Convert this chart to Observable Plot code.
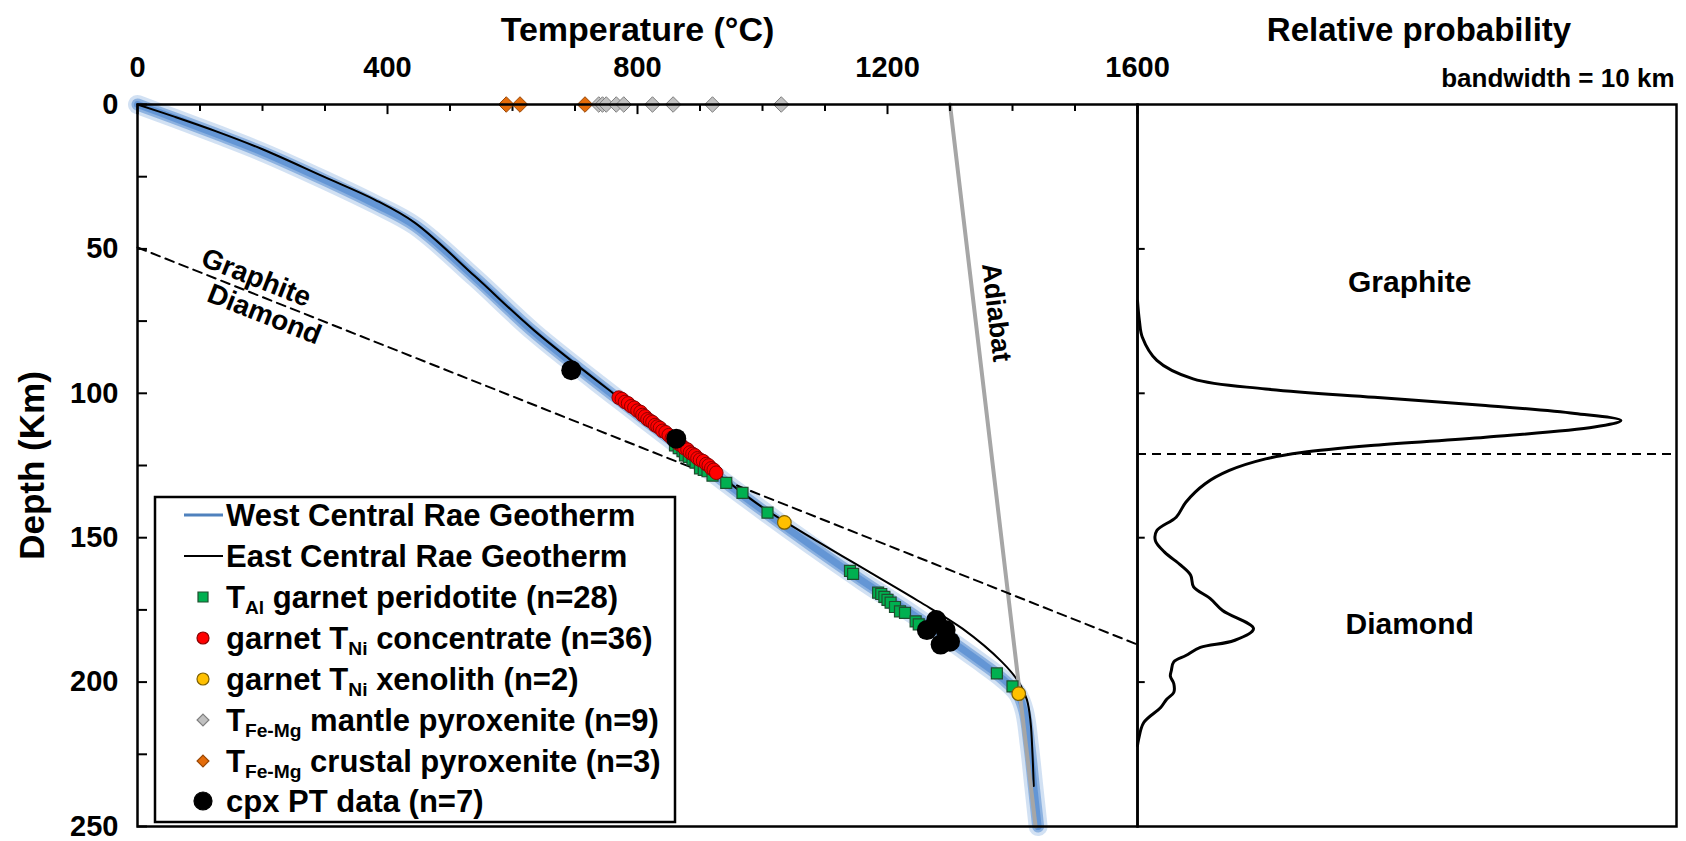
<!DOCTYPE html>
<html>
<head>
<meta charset="utf-8">
<script src="https://cdn.jsdelivr.net/npm/d3@7"></script>
<script src="https://cdn.jsdelivr.net/npm/@observablehq/plot@0.6"></script>
<style>
  body { margin: 0; background: #fff; }
  #chart { position: relative; width: 1686px; height: 841px; font-family: "Liberation Sans", Arial, sans-serif; }
  #chart svg { position: absolute; top: 0; overflow: visible; }
</style>
</head>
<body>
<div id="chart"></div>
<script>
// ---- axis ticks ----
const tempTicks = [0, 400, 800, 1200, 1600];
const tempMinor = [100, 200, 300, 500, 600, 700, 900, 1000, 1100, 1300, 1400, 1500];
const depthTicks = [0, 50, 100, 150, 200, 250];
const depthMinor = [25, 75, 125, 175, 225];
const kdeTicks = [50, 100, 150, 200];

// ---- geotherms (°C, km) ----
const westT = [0, 60, 126, 200, 298, 380, 444, 540, 635, 766, 850, 926, 1000, 1080, 1160, 1230, 1290, 1345, 1385, 1408, 1419, 1427, 1434, 1441];
const westZ = [0, 4.8, 10.2, 16.5, 26, 34.5, 42, 60, 79, 101.5, 115.5, 128.5, 140.5, 153, 165, 175, 184, 192.5, 199, 204, 210, 222, 236, 250];
const eastT = [0, 60, 126, 200, 298, 380, 444, 540, 635, 766, 850, 926, 1000, 1090, 1172, 1250, 1320, 1383, 1410, 1423, 1429, 1432, 1434];
const eastZ = [0, 4.3, 9.3, 15.5, 25, 33, 41, 59.5, 78.3, 100.8, 114.5, 127.5, 139.5, 151.5, 162, 172, 181.5, 193, 200, 206, 214, 225, 236];
const adiabatT = [1300, 1437];
const adiabatZ = [0, 250];
const gdT = [0, 1600];          // graphite–diamond boundary
const gdZ = [49.5, 187];

// ---- thermobarometry ----
const tAlT = [860, 866, 872, 876, 882, 888, 893, 900, 906, 912, 920, 942, 968, 1008, 1140, 1145, 1185, 1190, 1195, 1200, 1205, 1212, 1220, 1228, 1245, 1250, 1375, 1400];
const tAlZ = [118, 119, 120, 121.5, 122, 123, 124, 126, 126.5, 127, 128.5, 131, 134.5, 141.3, 161.5, 162.5, 169, 169.5, 170.5, 171.5, 172.5, 174, 175.5, 176, 179, 180, 197, 201.5];
const tNiConcT = [770, 775, 780, 785, 790, 795, 800, 805, 808, 812, 816, 820, 824, 828, 832, 836, 840, 845, 850, 855, 860, 866, 870, 875, 880, 884, 888, 892, 896, 900, 905, 910, 914, 918, 922, 926];
const tNiConcZ = [101.5, 102, 103, 103.5, 104.5, 105, 106, 106.5, 107.5, 108, 109, 109.5, 110, 111, 111.5, 112, 113, 113.5, 114.5, 115.5, 116, 117.5, 118, 119, 119.5, 120.5, 121, 121.5, 122.5, 123, 123.5, 124.5, 125, 126, 126.5, 127.5];
const tNiXenoT = [1035, 1410];
const tNiXenoZ = [144.7, 204];
const mantlePxT = [738, 744, 750, 766, 778, 824, 857, 920, 1030];
const crustalPxT = [590, 612, 716];
const cpxT = [694, 862, 1263, 1278, 1285, 1293, 1300];
const cpxZ = [92, 115.7, 182, 178.5, 187, 182, 186];

// ---- depth distribution, bandwidth 10 km ----
const kdeZ = [68, 75, 80.6, 88.6, 95, 98.5, 101.4, 104.2, 107, 109.4, 111.7, 115.2, 118, 120.5, 122.7, 126.7, 131.3, 137.7, 142.9, 147.5, 151, 155, 159.6, 163, 167, 171, 175.2, 181.5, 185.6, 188, 190.8, 193, 196, 198, 200.5, 203.6, 206, 208.8, 214, 220, 222];
const kdeP = [0, 0.004, 0.01, 0.04, 0.115, 0.265, 0.49, 0.72, 0.905, 1.0, 0.945, 0.72, 0.49, 0.34, 0.265, 0.19, 0.14, 0.1, 0.08, 0.04, 0.037, 0.056, 0.09, 0.11, 0.116, 0.15, 0.176, 0.24, 0.2, 0.13, 0.1, 0.075, 0.07, 0.068, 0.075, 0.075, 0.06, 0.048, 0.013, 0.002, 0];
const transitionDepth = 121;

const FONT = '"Liberation Sans", Arial, sans-serif';
const bold = {fontWeight: "bold", fill: "black"};

const COL = {
  blue: "#5f92d4", green: "#00b050", greenS: "#1f4e2e", red: "#ff0000", redS: "#8b0000",
  yellow: "#ffc000", yellowS: "#7f6000", gray: "#c0c0c0", grayS: "#7f7f7f",
  orange: "#e46c0a", orangeS: "#984807", adiabat: "#a6a6a6"
};

const ySpec = {domain: [0, 250], reverse: true, axis: null};

// ---- left panel: temperature vs depth ----
const left = Plot.plot({
  width: 1137, height: 841,
  marginLeft: 137, marginRight: 0, marginTop: 104, marginBottom: 15,
  style: {fontFamily: FONT, background: "transparent", overflow: "visible"},
  x: {domain: [0, 1600], axis: null},
  y: ySpec,
  marks: [
    // soft blue band for the West Central Rae geotherm
    Plot.line(westT, {x: westT, y: westZ, curve: "catmull-rom", stroke: COL.blue, strokeWidth: 19, strokeOpacity: 0.28}),
    Plot.line(westT, {x: westT, y: westZ, curve: "catmull-rom", stroke: COL.blue, strokeWidth: 12, strokeOpacity: 0.6}),
    Plot.line(westT, {x: westT, y: westZ, curve: "catmull-rom", stroke: COL.blue, strokeWidth: 7, strokeOpacity: 0.9}),
    Plot.line(eastT, {x: eastT, y: eastZ, curve: "catmull-rom", stroke: "black", strokeWidth: 2}),
    Plot.line(adiabatT, {x: adiabatT, y: adiabatZ, stroke: COL.adiabat, strokeWidth: 4}),
    Plot.line(gdT, {x: gdT, y: gdZ, stroke: "black", strokeWidth: 2, strokeDasharray: "9,6"}),
    // ticks pointing inward
    Plot.ruleX(tempTicks, {x: d => d, y1: 0, y2: 3.5, stroke: "black", strokeWidth: 2}),
    Plot.ruleX(tempMinor, {x: d => d, y1: 0, y2: 2.4, stroke: "black", strokeWidth: 2}),
    Plot.ruleY(depthTicks.concat(depthMinor), {y: d => d, x1: 0, x2: 16, stroke: "black", strokeWidth: 2}),
    // samples
    Plot.dot(tAlT, {x: tAlT, y: tAlZ, symbol: "square", r: 6.2, fill: COL.green, stroke: COL.greenS, strokeWidth: 1.2}),
    Plot.dot(tNiXenoT, {x: tNiXenoT, y: tNiXenoZ, r: 6.8, fill: COL.yellow, stroke: COL.yellowS, strokeWidth: 1.2}),
    Plot.dot(tNiConcT, {x: tNiConcT, y: tNiConcZ, r: 6.8, fill: COL.red, stroke: COL.redS, strokeWidth: 1}),
    Plot.dot(cpxT, {x: cpxT, y: cpxZ, r: 10, fill: "black"}),
    Plot.dot(mantlePxT, {x: mantlePxT, y: 0, symbol: "diamond2", r: 7, fill: COL.gray, stroke: COL.grayS, strokeWidth: 1}),
    Plot.dot(crustalPxT, {x: crustalPxT, y: 0, symbol: "diamond2", r: 7, fill: COL.orange, stroke: COL.orangeS, strokeWidth: 1}),
    // labels
    Plot.text(tempTicks, {x: d => d, y: 0, dy: -37, text: d => String(d), fontSize: 29, ...bold}),
    Plot.text(depthTicks, {x: 0, y: d => d, dx: -19, textAnchor: "end", text: d => String(d), fontSize: 29, ...bold}),
    Plot.text(["Temperature (°C)"], {frameAnchor: "top", lineAnchor: "middle", dy: -74, text: d => d, fontSize: 34, ...bold}),
    Plot.text(["Depth (Km)"], {frameAnchor: "left", textAnchor: "middle", lineAnchor: "middle", dx: -105, rotate: -90, text: d => d, fontSize: 35, ...bold}),
    Plot.text(["Graphite"], {x: 190, y: 60, rotate: 21.6, text: d => d, fontSize: 28, ...bold}),
    Plot.text(["Diamond"], {x: 203, y: 72.7, rotate: 21.6, text: d => d, fontSize: 28, ...bold}),
    Plot.text(["Adiabat"], {x: 1374, y: 72, rotate: 83.3, text: d => d, fontSize: 27, ...bold}),
    Plot.frame({stroke: "black", strokeWidth: 2.5})
  ]
});
left.style.left = "0px";

// ---- right panel: relative probability of depth ----
const right = Plot.plot({
  width: 549, height: 841,
  marginLeft: 0, marginRight: 10, marginTop: 104, marginBottom: 15,
  style: {fontFamily: FONT, background: "transparent", overflow: "visible"},
  x: {domain: [0, 1.115], axis: null},
  y: ySpec,
  marks: [
    Plot.ruleY([transitionDepth], {y: d => d, stroke: "black", strokeWidth: 2, strokeDasharray: "9,6"}),
    Plot.ruleY(kdeTicks, {y: d => d, x1: 0, x2: 0.016, stroke: "black", strokeWidth: 2}),
    Plot.line(kdeZ, {x: kdeP, y: kdeZ, curve: "catmull-rom", stroke: "black", strokeWidth: 3}),
    Plot.text(["Relative probability"], {frameAnchor: "top", lineAnchor: "middle", dx: 12, dy: -74, text: d => d, fontSize: 33, ...bold}),
    Plot.text(["bandwidth = 10 km"], {frameAnchor: "top-right", textAnchor: "end", lineAnchor: "middle", dx: -2, dy: -26, text: d => d, fontSize: 26, ...bold}),
    Plot.text(["Graphite"], {x: 0.563, y: 61.6, text: d => d, fontSize: 30, ...bold}),
    Plot.text(["Diamond"], {x: 0.563, y: 180, text: d => d, fontSize: 30, ...bold}),
    Plot.frame({stroke: "black", strokeWidth: 2.5})
  ]
});
right.style.left = "1137px";

const chart = document.getElementById("chart");
chart.appendChild(left);
chart.appendChild(right);

// ---- legend drawn into the left panel ----
const legendItems = [
  {sym: "line", stroke: "#4f81bd", w: 3, parts: [["West Central Rae Geotherm", 0]]},
  {sym: "line", stroke: "black", w: 2, parts: [["East Central Rae Geotherm", 0]]},
  {sym: "square", fill: COL.green, stroke: COL.greenS, parts: [["T", 0], ["Al", 1], [" garnet peridotite (n=28)", 0]]},
  {sym: "circle", fill: COL.red, stroke: COL.redS, r: 6, parts: [["garnet T", 0], ["Ni", 1], [" concentrate (n=36)", 0]]},
  {sym: "circle", fill: COL.yellow, stroke: COL.yellowS, r: 6, parts: [["garnet T", 0], ["Ni", 1], [" xenolith (n=2)", 0]]},
  {sym: "diamond", fill: COL.gray, stroke: COL.grayS, parts: [["T", 0], ["Fe-Mg", 1], [" mantle pyroxenite (n=9)", 0]]},
  {sym: "diamond", fill: COL.orange, stroke: COL.orangeS, parts: [["T", 0], ["Fe-Mg", 1], [" crustal pyroxenite (n=3)", 0]]},
  {sym: "circle", fill: "black", stroke: "black", r: 9, parts: [["cpx PT data (n=7)", 0]]}
];
const rowY = [515, 556, 597, 638, 679, 720, 761, 801];

const lg = d3.select(left).append("g")
  .attr("font-family", FONT).attr("font-weight", "bold").attr("font-size", 31)
  .attr("text-anchor", "start").attr("fill", "black");
lg.append("rect").attr("x", 155).attr("y", 497).attr("width", 520).attr("height", 325)
  .attr("fill", "white").attr("stroke", "black").attr("stroke-width", 2.5);

legendItems.forEach((it, i) => {
  const cy = rowY[i], cx = 203;
  if (it.sym === "line") {
    lg.append("line").attr("x1", 184).attr("x2", 223).attr("y1", cy).attr("y2", cy)
      .attr("stroke", it.stroke).attr("stroke-width", it.w);
  } else if (it.sym === "circle") {
    lg.append("circle").attr("cx", cx).attr("cy", cy).attr("r", it.r)
      .attr("fill", it.fill).attr("stroke", it.stroke).attr("stroke-width", 1.2);
  } else {
    const shape = it.sym === "square" ? d3.symbolSquare : d3.symbolDiamond2;
    lg.append("path").attr("transform", `translate(${cx},${cy})`)
      .attr("d", d3.symbol(shape, it.sym === "square" ? 100 : 90)())
      .attr("fill", it.fill).attr("stroke", it.stroke).attr("stroke-width", 1.2);
  }
  const t = lg.append("text").attr("x", 226).attr("y", cy).attr("dy", "0.35em")
    .attr("text-anchor", "start").style("white-space", "pre");
  let shifted = false;
  it.parts.forEach(([s, sub]) => {
    const ts = t.append("tspan").text(s);
    if (sub) { ts.attr("font-size", "0.62em").attr("dy", "0.3em"); shifted = true; }
    else if (shifted) { ts.attr("dy", "-0.186em"); shifted = false; }
  });
});
</script>
</body>
</html>
